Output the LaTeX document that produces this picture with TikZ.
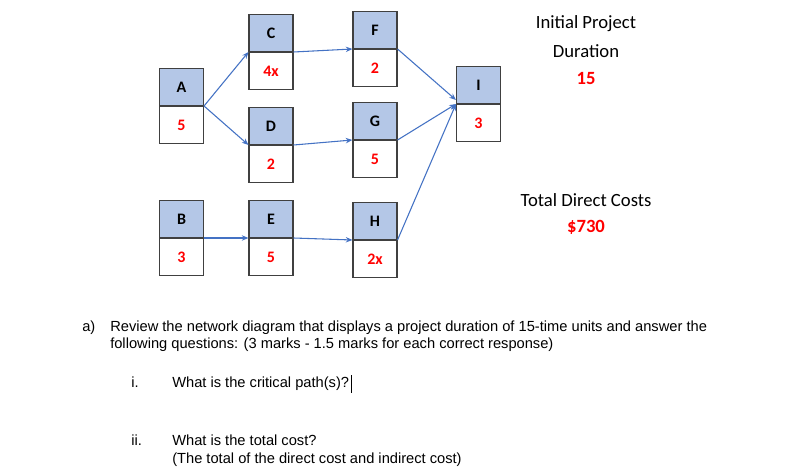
\documentclass[tikz,border=0pt]{standalone}
\usepackage{fontspec}
\setmainfont{Liberation Sans}
\newfontfamily\carfont{Carlito}
\usetikzlibrary{arrows.meta}
\definecolor{boxblue}{HTML}{B4C7E7}
\definecolor{arrblue}{HTML}{4472C4}
\definecolor{myred}{HTML}{FF0000}
\begin{document}
\begin{tikzpicture}[x=0.75pt,y=-0.75pt,
  top/.style={draw=black!75,line width=0.8pt,fill=boxblue,minimum width=44*0.75pt,minimum height=37*0.75pt,inner sep=0pt,font=\carfont\fontsize{12}{12}\selectfont\bfseries,anchor=south},
  bot/.style={draw=black!75,line width=0.8pt,fill=white,minimum width=44*0.75pt,minimum height=37*0.75pt,inner sep=0pt,font=\carfont\fontsize{12}{12}\selectfont\bfseries,text=myred,anchor=north},
  arr/.style={draw=arrblue,line width=0.8pt,-{Stealth[length=5pt,width=4pt]}},
  side/.style={font=\carfont\fontsize{14}{14}\selectfont,anchor=center},
  body/.style={font=\fontsize{11}{13}\selectfont,anchor=base west,inner sep=0pt}]
\useasboundingbox (0,0) rectangle (804,474);
\fill[white] (0,0) rectangle (804,474);
\foreach \n/\x/\y/\d in {A/181.5/106/5,C/271/52/4x,D/271/145/2,B/181.5/238/3,E/271/238/5,F/375/49/2,G/375/140/5,H/375/240/2x,I/478.5/104/3}{
  \node[top] (\n t) at (\x,\y) {\n};
  \node[bot] (\n b) at (\x,\y) {\d};
}
\draw[arr] (At.south east) -- (Ct.south west);
\draw[arr] (At.south east) -- (Dt.south west);
\draw[arr] (Ct.south east) -- (Ft.south west);
\draw[arr] (Dt.south east) -- (Gt.south west);
\draw[arr] (Bt.south east) -- (Et.south west);
\draw[arr] (Eb.north east) -- (Hb.north west);
\draw[arr] (Ft.south east) -- ([yshift=3pt]It.south west);
\draw[arr] (Gt.south east) -- (It.south west);
\draw[arr] (Ht.south east) -- (It.south west);
\node[side] (t1) at (586,24) {Initial Project};
\node[side] (t2) at (586,51) {Duration};
\node[side,text=myred,font=\carfont\fontsize{14}{14}\selectfont\bfseries] (t3) at (586,79) {15};
\node[side] (t4) at (586,200) {Total Direct Costs};
\node[side,text=myred,font=\carfont\fontsize{14}{14}\selectfont\bfseries] (t5) at (586,227) {\$730};
\node[body] (qa) at (82,331) {a)};
\node[body] (q1) at (110,331) {Review the network diagram that displays a project duration of 15-time units and answer the};
\node[body] (q2) at (110,349) {following questions: (3 marks - 1.5 marks for each correct response)};
\node[body] (r1) at (131,387) {i.};
\node[body] (s1) at (172,387) {What is the critical path(s)?};
\draw[line width=1.2pt] (s1.north east)++(2,-1) -- ++(0,18);
\node[body] (r2) at (131,445) {ii.};
\node[body] (s2) at (172,445) {What is the total cost?};
\node[body] (s3) at (172,463) {(The total of the direct cost and indirect cost)};
\end{tikzpicture}
\end{document}
